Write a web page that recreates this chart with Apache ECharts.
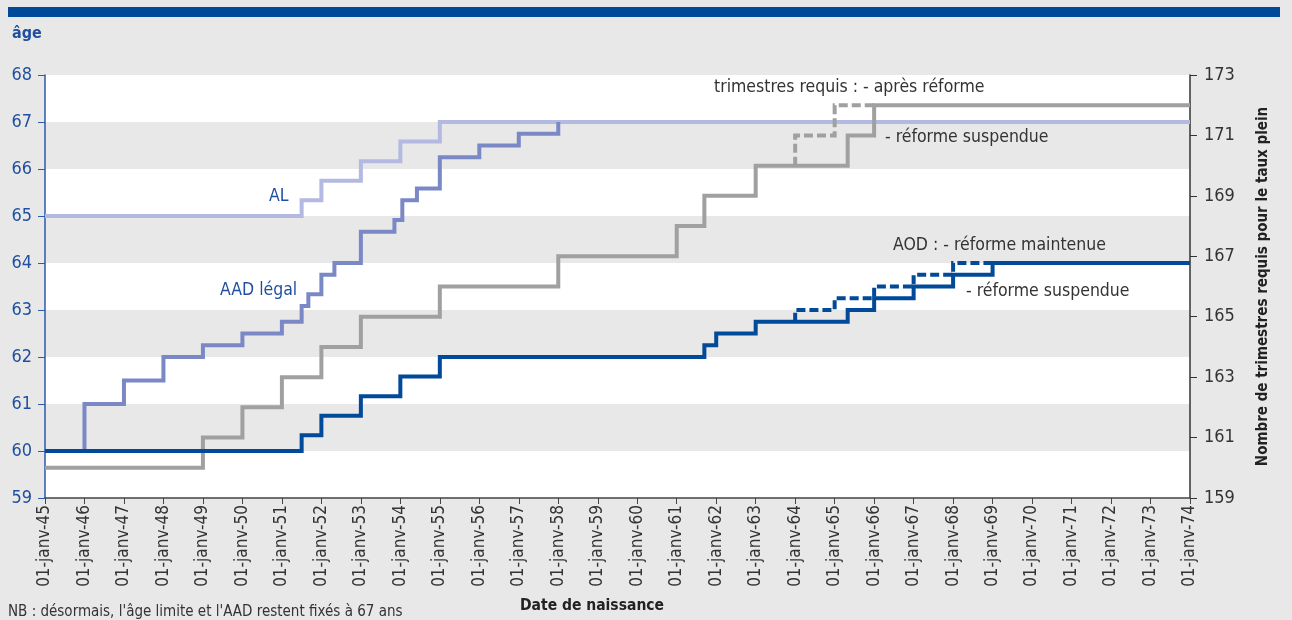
<!DOCTYPE html>
<html>
<head>
<meta charset="utf-8">
<script src="https://cdn.jsdelivr.net/npm/echarts@6/dist/echarts.min.js"></script>
<style>
html,body{margin:0;padding:0;background:#e8e8e8;}
#c{width:1292px;height:620px;}
</style>
</head>
<body>
<div id="c"></div>
<script>
// ---- tick labels ----
const xTickLabels = ['01-janv-45','01-janv-46','01-janv-47','01-janv-48','01-janv-49','01-janv-50',
  '01-janv-51','01-janv-52','01-janv-53','01-janv-54','01-janv-55','01-janv-56','01-janv-57',
  '01-janv-58','01-janv-59','01-janv-60','01-janv-61','01-janv-62','01-janv-63','01-janv-64',
  '01-janv-65','01-janv-66','01-janv-67','01-janv-68','01-janv-69','01-janv-70','01-janv-71',
  '01-janv-72','01-janv-73','01-janv-74'];
const xFirstYear = 1945;
const xLastYear = 1974;

// ---- AL (âge limite) ----
const alYears = [1945, 1951.5, 1952, 1953, 1954, 1955, 1974];
const alAges  = [65, 65.333, 65.75, 66.167, 66.583, 67, 67];

// ---- AAD légal ----
const aadYears = [1945, 1946, 1947, 1948, 1949, 1950, 1951, 1951.5, 1951.67, 1952, 1952.33,
  1953, 1953.85, 1954.05, 1954.42, 1955, 1956, 1957, 1958];
const aadAges  = [60, 61, 61.5, 62, 62.25, 62.5, 62.75, 63.083, 63.333, 63.75, 64,
  64.667, 64.917, 65.333, 65.583, 66.25, 66.5, 66.75, 67];

// ---- AOD solid ----
const aodSolidYears = [1945, 1951.5, 1952, 1953, 1954, 1955, 1961.7, 1962, 1963, 1965.33, 1966, 1967, 1968, 1969, 1974];
const aodSolidAges  = [60, 60.333, 60.75, 61.167, 61.583, 62, 62.25, 62.5, 62.75, 63, 63.25, 63.5, 63.75, 64, 64];

// ---- AOD dashed ----
const aodDashYears = [1964, 1964, 1965, 1966, 1967, 1968, 1969];
const aodDashAges  = [62.75, 63, 63.25, 63.5, 63.75, 64, 64];

// ---- trimestres requis, solid ----
const trimSolidYears = [1945, 1949, 1950, 1951, 1952, 1953, 1955, 1958, 1961, 1961.7, 1963, 1965.33, 1966, 1974];
const trimSolidVals  = [160, 161, 162, 163, 164, 165, 166, 167, 168, 169, 170, 171, 172, 172];

// ---- trimestres requis, dashed ----
const trimDashYears = [1964, 1964, 1965, 1966];
const trimDashVals  = [170, 171, 172, 172];

const zip = (xs, ys) => xs.map((x, i) => [x, ys[i]]);

const FONT = "'Liberation Sans Narrow', 'DejaVu Sans Condensed', 'Roboto', sans-serif";
const BLUE = '#004a99';
const LABEL_BLUE = '#1f4f9e';
const TXT = '#333333';

const chart = echarts.init(document.getElementById('c'), null, {renderer: 'canvas'});

function stepSeries(name, data, color, yIndex, dashed, z) {
  return {
    name: name, type: 'line', step: 'end', data: data, yAxisIndex: yIndex,
    symbol: 'none', z: z, silent: true,
    lineStyle: {color: color, width: 4, type: dashed ? [9, 4] : 'solid', join: 'miter', cap: 'butt'}
  };
}

function txt(left, top, text, color, font) {
  return {type: 'text', left: left, top: top, z: 100, silent: true,
          style: {text: text, fill: color, font: font}};
}

chart.setOption({
  backgroundColor: '#e8e8e8',
  animation: false,
  textStyle: {fontFamily: FONT},
  grid: {left: 45, right: 102, top: 75, bottom: 122, containLabel: false},
  xAxis: {
    type: 'value', min: xFirstYear, max: xLastYear, interval: 1,
    axisLine: {show: true, lineStyle: {color: '#444', width: 1.5}},
    axisTick: {show: true, inside: false, length: 6, lineStyle: {color: '#444'}},
    splitLine: {show: false},
    axisLabel: {
      rotate: 90, margin: 7, color: TXT, fontSize: 17, fontFamily: FONT,
      formatter: v => xTickLabels[Math.round(v - xFirstYear)] || ''
    }
  },
  yAxis: [
    {
      type: 'value', min: 59, max: 68, interval: 1, position: 'left',
      axisLine: {show: true, lineStyle: {color: '#2a5aa8', width: 1.5}},
      axisTick: {show: true, length: 7, lineStyle: {color: '#2a5aa8'}},
      axisLabel: {color: LABEL_BLUE, fontSize: 18, fontFamily: FONT, margin: 13},
      splitLine: {show: false},
      splitArea: {show: true, areaStyle: {color: ['#ffffff', '#e8e8e8']}}
    },
    {
      type: 'value', min: 159, max: 173, interval: 2, position: 'right',
      axisLine: {show: true, lineStyle: {color: '#333', width: 1.5}},
      axisTick: {show: true, length: 7, lineStyle: {color: '#333'}},
      axisLabel: {color: TXT, fontSize: 18, fontFamily: FONT, margin: 14},
      splitLine: {show: false},
      name: 'Nombre de trimestres requis pour le taux plein',
      nameLocation: 'middle', nameRotate: 90, nameGap: 66,
      nameTextStyle: {color: '#222', fontSize: 15, fontWeight: 'bold', fontFamily: FONT}
    }
  ],
  series: [
    stepSeries('AL', zip(alYears, alAges), '#b3b9e0', 0, false, 2),
    stepSeries('AAD légal', zip(aadYears, aadAges), '#7a88c6', 0, false, 3),
    stepSeries('trimestres suspendue', zip(trimSolidYears, trimSolidVals), '#a0a0a0', 1, false, 4),
    stepSeries('trimestres après réforme', zip(trimDashYears, trimDashVals), '#a0a0a0', 1, true, 4),
    stepSeries('AOD pointillé', zip(aodDashYears, aodDashAges), BLUE, 0, true, 5),
    stepSeries('AOD', zip(aodSolidYears, aodSolidAges), BLUE, 0, false, 6)
  ],
  graphic: [
    {type: 'rect', left: 8, top: 7, z: 100, silent: true, shape: {width: 1272, height: 10}, style: {fill: BLUE}},
    txt(12, 26, 'âge', LABEL_BLUE, "bold 16px " + FONT),
    txt(269, 187, 'AL', LABEL_BLUE, "17.5px " + FONT),
    txt(220, 281, 'AAD légal', LABEL_BLUE, "17.5px " + FONT),
    txt(714, 78, 'trimestres requis : - après réforme', TXT, "17.5px " + FONT),
    txt(885, 128, '- réforme suspendue', TXT, "17.5px " + FONT),
    txt(893, 236, 'AOD : - réforme maintenue', TXT, "17.5px " + FONT),
    txt(966, 282, '- réforme suspendue', TXT, "17.5px " + FONT),
    txt(520, 598, 'Date de naissance', '#222', "bold 15.5px " + FONT),
    txt(8, 605, "NB : désormais, l'âge limite et l'AAD restent fixés à 67 ans", TXT, "15px " + FONT)
  ]
});
</script>
</body>
</html>
